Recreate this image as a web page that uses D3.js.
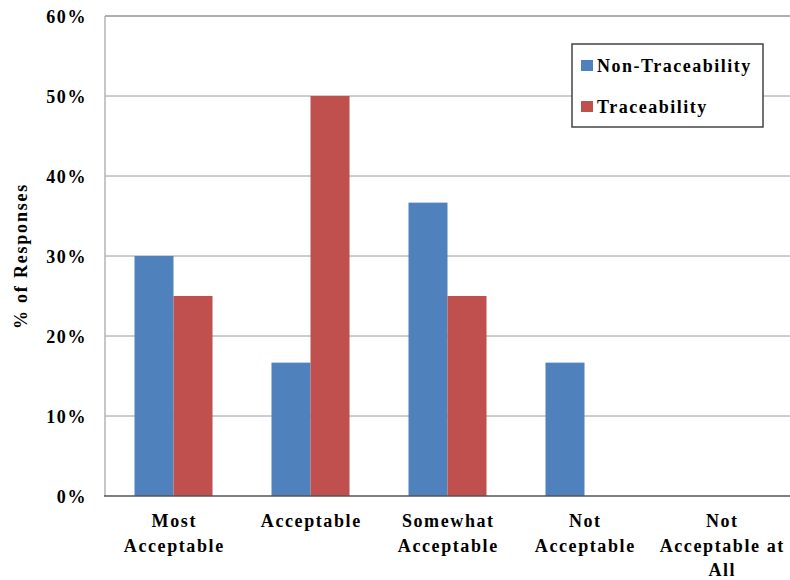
<!DOCTYPE html>
<html>
<head>
<meta charset="utf-8">
<script src="https://cdn.jsdelivr.net/npm/d3@7"></script>
<style>
  html, body { margin: 0; padding: 0; background: #fff; }
  svg text { font-family: "Liberation Serif", "Times New Roman", serif; font-weight: bold; fill: #000; }
</style>
</head>
<body>
<svg id="chart" width="790" height="580"></svg>
<script>
const categories = [["Most", "Acceptable"], ["Acceptable"], ["Somewhat", "Acceptable"], ["Not", "Acceptable"], ["Not", "Acceptable at", "All"]];
const seriesNames = ["Non-Traceability", "Traceability"];
const nonTraceability = [30, 16.67, 36.67, 16.67, 0];
const traceability = [25, 50, 25, 0, 0];
const yTicks = [0, 10, 20, 30, 40, 50, 60];
const colors = ["#4F81BD", "#C0504D"];

const svg = d3.select("#chart");
const pLeft = 105, pRight = 790, pTop = 16, pBottom = 496;

const catKeys = categories.map(c => c.join(" "));
const x0 = d3.scaleBand().domain(catKeys).range([pLeft, pRight]).paddingInner(0).paddingOuter(0);
const x1 = d3.scaleBand().domain(seriesNames).range([0, x0.bandwidth()]).paddingInner(0).paddingOuter(0.756);
const y = d3.scaleLinear().domain([0, 60]).range([pBottom, pTop]);

// gridlines
svg.append("g").selectAll("line").data(yTicks.filter(t => t > 0 && t < 60)).join("line")
  .attr("x1", pLeft).attr("x2", pRight)
  .attr("y1", d => y(d)).attr("y2", d => y(d))
  .attr("stroke", "#9a9a9a").attr("stroke-width", 1);
// top border
svg.append("line").attr("x1", pLeft).attr("x2", pRight).attr("y1", y(60)).attr("y2", y(60))
  .attr("stroke", "#606060").attr("stroke-width", 1.2);

// bars
const series = [nonTraceability, traceability];
series.forEach((vals, si) => {
  svg.append("g").selectAll("rect").data(vals).join("rect")
    .attr("x", (d, i) => x0(catKeys[i]) + x1(seriesNames[si]))
    .attr("width", x1.bandwidth())
    .attr("y", d => y(d))
    .attr("height", d => y(0) - y(d))
    .attr("fill", colors[si]);
});

// left axis line
svg.append("line").attr("x1", pLeft).attr("x2", pLeft).attr("y1", pTop).attr("y2", pBottom)
  .attr("stroke", "#a0a0a0").attr("stroke-width", 1.2);
// bottom axis line
svg.append("line").attr("x1", pLeft - 1).attr("x2", pRight).attr("y1", pBottom).attr("y2", pBottom)
  .attr("stroke", "#555").attr("stroke-width", 1.5);

// y tick labels
const yAxis = d3.axisLeft(y).tickValues(yTicks).tickFormat(d => d + "%").tickSize(0).tickPadding(0);
const yg = svg.append("g").attr("transform", `translate(${pLeft - 18},0)`).call(yAxis);
yg.select(".domain").remove();
yg.selectAll("text")
  .attr("font-family", "Liberation Serif").attr("font-weight", "bold")
  .attr("font-size", 18).attr("letter-spacing", "1.6px")
  .attr("dy", "0.35em").attr("fill", "#000");

// x labels
const xl = svg.append("g");
categories.forEach((lines, i) => {
  const cx = x0(catKeys[i]) + x0.bandwidth() / 2;
  const t = xl.append("text").attr("text-anchor", "middle").attr("font-size", 18).attr("letter-spacing", "1.6px");
  lines.forEach((ln, j) => {
    t.append("tspan").attr("x", cx + 0.8).attr("y", 527 + j * 24.5).text(ln);
  });
});

// y axis title
svg.append("text")
  .attr("transform", "translate(27,256) rotate(-90)")
  .attr("text-anchor", "middle").attr("font-size", 18).attr("letter-spacing", "1.8px")
  .text("% of Responses");

// legend
const lg = svg.append("g");
lg.append("rect").attr("x", 572).attr("y", 44).attr("width", 191).attr("height", 83)
  .attr("fill", "#fff").attr("stroke", "#444").attr("stroke-width", 1.5);
seriesNames.forEach((name, i) => {
  const by = 72 + i * 41;
  lg.append("rect").attr("x", 581).attr("y", by - 12).attr("width", 12).attr("height", 11).attr("fill", colors[i]);
  lg.append("text").attr("x", 597).attr("y", by).attr("font-size", 18).attr("letter-spacing", "1.5px").text(name);
});
</script>
</body>
</html>
